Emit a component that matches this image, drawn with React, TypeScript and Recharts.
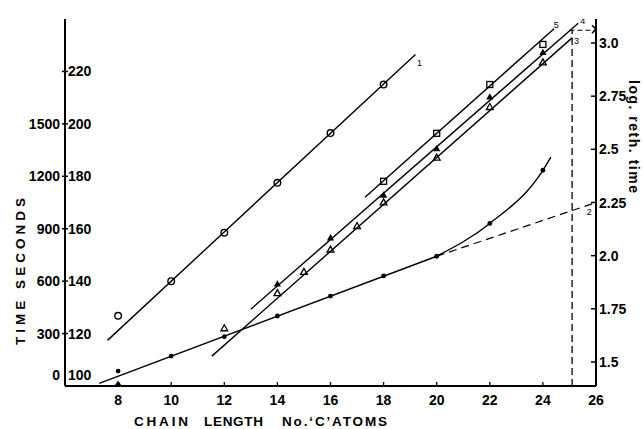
import React from 'react';
import { ComposedChart, Line, Scatter, XAxis, YAxis } from 'recharts';

const FONT = '"Liberation Sans", Arial, Helvetica, sans-serif';

// ---- axes ----
const xTicks = [8, 10, 12, 14, 16, 18, 20, 22, 24, 26];
const leftTicks = [100, 120, 140, 160, 180, 200, 220];
const leftTimeLabels = ['0', '300', '600', '900', '1200', '1500', ''];
const rightTicks = [1.5, 1.75, 2.0, 2.25, 2.5, 2.75, 3.0];
const rightTickLabels = ['1.5', '1.75', '2.0', '2.25', '2.5', '2.75', '3.0'];
const xDomain: [number, number] = [6, 26];
const leftDomain: [number, number] = [100, 240];
const rightDomain: [number, number] = [1.387, 3.113];

// ---- series 1 : open circles ----
const openCircles = [
  { x: 8, y: 126.8 }, { x: 10, y: 140 }, { x: 12, y: 158.5 },
  { x: 14, y: 177.5 }, { x: 16, y: 196.5 }, { x: 18, y: 215 },
];
const line1 = [{ x: 7.6, y: 117.4 }, { x: 19.2, y: 226.5 }];

// ---- series 2 : filled circles ----
const filledDots = [
  { x: 8, y: 105.7 }, { x: 10, y: 111.4 }, { x: 12, y: 118.8 }, { x: 14, y: 126.7 },
  { x: 16, y: 134.3 }, { x: 18, y: 142 }, { x: 20, y: 149.5 }, { x: 22, y: 162 }, { x: 24, y: 182.3 },
];
const line2Solid = [{ x: 7.29, y: 101 }, { x: 20, y: 149.5 }];
const line2Curve = [{ x: 20, y: 149.5 }, { x: 22, y: 162 }, { x: 24, y: 182.3 }, { x: 24.3, y: 187.3 }];
const line2Dashed = [{ x: 20, y: 149.5 }, { x: 26, y: 170 }];
const axisDiamond = [{ x: 8, y: 100.5 }];

// ---- series 3 : open triangles ----
const openTriangles = [
  { x: 12, y: 122 }, { x: 14, y: 135.4 }, { x: 15, y: 143.5 }, { x: 16, y: 152 },
  { x: 17, y: 161 }, { x: 18, y: 170 }, { x: 20, y: 187.1 }, { x: 22, y: 206.4 }, { x: 24, y: 223.4 },
];
const line3 = [{ x: 11.53, y: 111.4 }, { x: 25.11, y: 232.9 }];

// ---- series 4 : filled triangles ----
const filledTriangles = [
  { x: 14, y: 138.9 }, { x: 16, y: 156.5 }, { x: 18, y: 172.8 },
  { x: 20, y: 190.5 }, { x: 22, y: 210.2 }, { x: 24, y: 227.2 },
];
const line4 = [{ x: 13.0, y: 129.3 }, { x: 25.33, y: 238.4 }];

// ---- series 5 : open squares ----
const openSquares = [{ x: 18, y: 178.1 }, { x: 20, y: 196.4 }, { x: 22, y: 215 }, { x: 24, y: 230.3 }];
const line5 = [{ x: 17.3, y: 172 }, { x: 24.42, y: 236.3 }];

// ---- construction lines (right-axis units) ----
const verticalDashed = [{ x: 25.1, y: 1.387 }, { x: 25.1, y: 3.06 }];
const horizontalDashed = [{ x: 25.0, y: 3.06 }, { x: 26, y: 3.06 }];
const crossMark = [{ x: 26, y: 3.065 }];

// ---- curve number labels ----
const curveLabels = [
  { x: 19.35, y: 223.3, t: '1' },
  { x: 25.75, y: 166.3, t: '2' },
  { x: 25.27, y: 231.6, t: '3' },
  { x: 25.5, y: 239.2, t: '4' },
  { x: 24.5, y: 237.6, t: '5' },
];

const K = '#000';

const LeftTick = (props: any) => {
  const { x, y, payload } = props;
  const v = payload.value;
  const i = leftTicks.indexOf(v);
  const ty = v === 100 ? y - 11 : y;
  return (
    <g>
      {v !== 100 && <line x1={x - 3} x2={x + 3} y1={y} y2={y} stroke={K} strokeWidth={1.5} />}
      <text x={x - 5} y={ty + 5} textAnchor="end" fontFamily={FONT} fontWeight="bold" fontSize={14} fill={K}>
        {leftTimeLabels[i]}
      </text>
      <text x={x + 3} y={ty + 5} textAnchor="start" fontFamily={FONT} fontWeight="bold" fontSize={14} fill={K}>
        {v}
      </text>
    </g>
  );
};

const RightTick = (props: any) => {
  const { x, y, payload } = props;
  const i = rightTicks.indexOf(payload.value);
  return (
    <g>
      <line x1={x - 5} x2={x} y1={y} y2={y} stroke={K} strokeWidth={1.5} />
      <text x={x + 3} y={y + 5} textAnchor="start" fontFamily={FONT} fontWeight="bold" fontSize={14} fill={K}>
        {rightTickLabels[i]}
      </text>
    </g>
  );
};

const BottomTick = (props: any) => {
  const { x, y, payload } = props;
  return (
    <g>
      <line x1={x} x2={x} y1={y - 4} y2={y} stroke={K} strokeWidth={1.3} />
      <text x={x} y={y + 19} textAnchor="middle" fontFamily={FONT} fontWeight="bold" fontSize={14} fill={K}>
        {payload.value}
      </text>
    </g>
  );
};

const TopTick = (props: any) => {
  const { x, y } = props;
  return <line x1={x} x2={x} y1={y - 3} y2={y + 3} stroke={K} strokeWidth={1.3} />;
};

const OpenCircle = (p: any) => <circle cx={p.cx} cy={p.cy} r={3.3} fill="none" stroke={K} strokeWidth={1.4} />;
const FilledCircle = (p: any) => <circle cx={p.cx} cy={p.cy} r={2.4} fill={K} />;
const OpenTriangle = (p: any) => (
  <path d={`M${p.cx},${p.cy - 3.6} L${p.cx + 3.4},${p.cy + 2.4} L${p.cx - 3.4},${p.cy + 2.4} Z`} fill="none" stroke={K} strokeWidth={1.3} />
);
const FilledTriangle = (p: any) => (
  <path d={`M${p.cx},${p.cy - 3.8} L${p.cx + 3.6},${p.cy + 2.5} L${p.cx - 3.6},${p.cy + 2.5} Z`} fill={K} />
);
const OpenSquare = (p: any) => (
  <rect x={p.cx - 3} y={p.cy - 3} width={6} height={6} fill="none" stroke={K} strokeWidth={1.3} />
);
const Diamond = (p: any) => (
  <path d={`M${p.cx},${p.cy - 4} L${p.cx + 3},${p.cy} L${p.cx},${p.cy + 3} L${p.cx - 3},${p.cy} Z`} fill={K} />
);
const Cross = (p: any) => (
  <g stroke={K} strokeWidth={1.6}>
    <line x1={p.cx - 4} y1={p.cy - 4} x2={p.cx + 4} y2={p.cy + 4} />
    <line x1={p.cx - 4} y1={p.cy + 4} x2={p.cx + 4} y2={p.cy - 4} />
  </g>
);
const LabelShape = (p: any) => (
  <text x={p.cx} y={p.cy + 3} textAnchor="middle" fontFamily={FONT} fontSize={9} fill={K}>
    {p.payload.t}
  </text>
);

const lineProps = {
  dataKey: 'y',
  stroke: K,
  strokeWidth: 1.4,
  dot: false,
  activeDot: false,
  isAnimationActive: false,
  type: 'linear' as const,
  xAxisId: 'bottom',
  yAxisId: 'left',
};

export default function App() {
  return (
    <div style={{ position: 'absolute', left: 0, top: 0, width: 643, height: 429, background: '#fff' }}>
      <ComposedChart width={643} height={429} margin={{ top: 19, right: 7, bottom: 13, left: 5 }}>
        <XAxis
          xAxisId="bottom"
          dataKey="x"
          type="number"
          domain={xDomain}
          allowDataOverflow
          ticks={xTicks}
          interval={0}
          height={30}
          tickSize={0}
          tickMargin={0}
          tickLine={false}
          axisLine={{ stroke: K, strokeWidth: 2 }}
          tick={<BottomTick />}
        />
        <XAxis
          xAxisId="top"
          orientation="top"
          dataKey="x"
          type="number"
          domain={xDomain}
          allowDataOverflow
          ticks={xTicks}
          interval={0}
          height={0}
          tickSize={0}
          tickMargin={0}
          tickLine={false}
          axisLine={{ stroke: K, strokeWidth: 2 }}
          tick={<TopTick />}
        />
        <YAxis
          yAxisId="left"
          type="number"
          domain={leftDomain}
          allowDataOverflow
          ticks={leftTicks}
          interval={0}
          width={60}
          tickSize={0}
          tickMargin={0}
          tickLine={false}
          axisLine={{ stroke: K, strokeWidth: 2 }}
          tick={<LeftTick />}
        />
        <YAxis
          yAxisId="right"
          orientation="right"
          type="number"
          domain={rightDomain}
          allowDataOverflow
          ticks={rightTicks}
          interval={0}
          width={40}
          tickSize={0}
          tickMargin={0}
          tickLine={false}
          axisLine={{ stroke: K, strokeWidth: 2 }}
          tick={<RightTick />}
        />

        <Line {...lineProps} data={line1} />
        <Line {...lineProps} data={line2Solid} />
        <Line {...lineProps} data={line2Curve} type="monotone" />
        <Line {...lineProps} data={line2Dashed} strokeDasharray="8 5" strokeWidth={1.2} />
        <Line {...lineProps} data={line3} />
        <Line {...lineProps} data={line4} />
        <Line {...lineProps} data={line5} />
        <Line {...lineProps} yAxisId="right" data={verticalDashed} strokeDasharray="7 4" strokeWidth={1.3} />
        <Line {...lineProps} yAxisId="right" data={horizontalDashed} strokeDasharray="5 3" strokeWidth={1.2} />

        <Scatter xAxisId="bottom" yAxisId="left" data={openCircles} dataKey="y" shape={OpenCircle} isAnimationActive={false} />
        <Scatter xAxisId="bottom" yAxisId="left" data={filledDots} dataKey="y" shape={FilledCircle} isAnimationActive={false} />
        <Scatter xAxisId="bottom" yAxisId="left" data={openTriangles} dataKey="y" shape={OpenTriangle} isAnimationActive={false} />
        <Scatter xAxisId="bottom" yAxisId="left" data={filledTriangles} dataKey="y" shape={FilledTriangle} isAnimationActive={false} />
        <Scatter xAxisId="bottom" yAxisId="left" data={openSquares} dataKey="y" shape={OpenSquare} isAnimationActive={false} />
        <Scatter xAxisId="bottom" yAxisId="left" data={axisDiamond} dataKey="y" shape={Diamond} isAnimationActive={false} />
        <Scatter xAxisId="top" yAxisId="right" data={crossMark} dataKey="y" shape={Cross} isAnimationActive={false} />
        <Scatter xAxisId="top" yAxisId="left" data={curveLabels} dataKey="y" shape={LabelShape} isAnimationActive={false} />
      </ComposedChart>

      <svg width={643} height={429} style={{ position: 'absolute', left: 0, top: 0, pointerEvents: 'none' }}>
        <g fontFamily={FONT} fontWeight="bold" fontSize={13.5} fill={K}>
          <text x={134} y={426} textLength={54} lengthAdjust="spacing">CHAIN</text>
          <text x={204} y={426} textLength={59} lengthAdjust="spacing">LENGTH</text>
          <text x={282} y={426} textLength={105} lengthAdjust="spacing">No.‘C’ATOMS</text>
          <text transform="translate(25,271.5) rotate(-90)" textAnchor="middle" textLength={147} lengthAdjust="spacing">
            TIME SECONDS
          </text>
        </g>
        <text
          transform="translate(629,136.5) rotate(90)"
          textAnchor="middle"
          fontFamily={FONT}
          fontWeight="bold"
          fontSize={14}
          fill={K}
          textLength={113}
          lengthAdjust="spacing"
        >
          log. reth. time
        </text>
      </svg>
    </div>
  );
}
